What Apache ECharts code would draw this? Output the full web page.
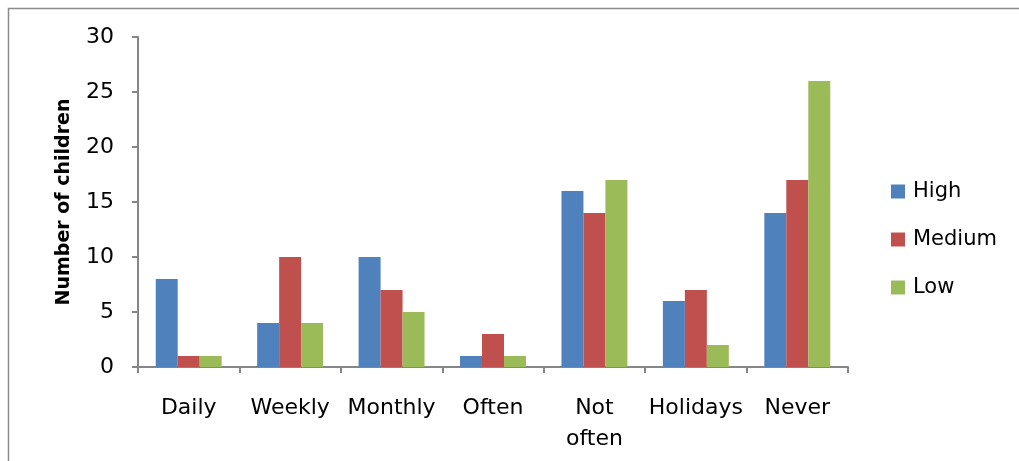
<!DOCTYPE html>
<html>
<head>
<meta charset="utf-8">
<script src="https://cdn.jsdelivr.net/npm/echarts@6/dist/echarts.min.js"></script>
<style>
  html, body { margin: 0; padding: 0; background: #fff; }
  #chart { width: 1019px; height: 461px; }
</style>
</head>
<body>
<div id="chart"></div>
<script>
let categories = ['Daily', 'Weekly', 'Monthly', 'Often', 'Not\noften', 'Holidays', 'Never'];
let high = [8, 4, 10, 1, 16, 6, 14];
let medium = [1, 10, 7, 3, 14, 7, 17];
let low = [1, 4, 5, 1, 17, 2, 26];

let font = '"DejaVu Sans", sans-serif';
let axisColor = '#868686';

let option = {
    animation: false,
    textStyle: { fontFamily: font },
    graphic: [{
        type: 'rect',
        shape: { x: 8.5, y: 8.5, width: 1040, height: 480 },
        style: { fill: 'none', stroke: '#8c8c8c', lineWidth: 1.5 }
    }],
    legend: {
        data: ['High', 'Medium', 'Low'],
        orient: 'vertical',
        left: 886,
        top: 176,
        icon: 'rect',
        itemWidth: 14,
        itemHeight: 14,
        itemGap: 27,
        textStyle: { fontSize: 21, color: '#000', fontFamily: font, padding: [0, 0, 0, 3] }
    },
    grid: { left: 138, right: 171, top: 37, bottom: 94 },
    xAxis: {
        type: 'category',
        data: categories,
        axisLine: { lineStyle: { color: axisColor, width: 2 } },
        axisTick: { show: true, length: 6, lineStyle: { color: axisColor, width: 2 } },
        axisLabel: { color: '#000', fontSize: 22, margin: 26, lineHeight: 31, interval: 0 }
    },
    yAxis: {
        type: 'value',
        min: 0,
        max: 30,
        interval: 5,
        name: 'Number of children',
        nameLocation: 'middle',
        nameGap: 64,
        nameTextStyle: { fontSize: 19, fontWeight: 'bold', color: '#000', fontFamily: font },
        axisLine: { show: true, lineStyle: { color: axisColor, width: 2 } },
        axisTick: { show: true, length: 6, lineStyle: { color: axisColor, width: 2 } },
        axisLabel: { color: '#000', fontSize: 22, margin: 24 },
        splitLine: { show: false }
    },
    series: [
        { name: 'High', type: 'bar', data: high, barGap: '0%', barCategoryGap: '35%', itemStyle: { color: '#4F81BD' } },
        { name: 'Medium', type: 'bar', data: medium, itemStyle: { color: '#C0504D' } },
        { name: 'Low', type: 'bar', data: low, itemStyle: { color: '#9BBB59' } }
    ]
};

let myChart = echarts.init(document.getElementById('chart'));
myChart.setOption(option);
</script>
</body>
</html>
